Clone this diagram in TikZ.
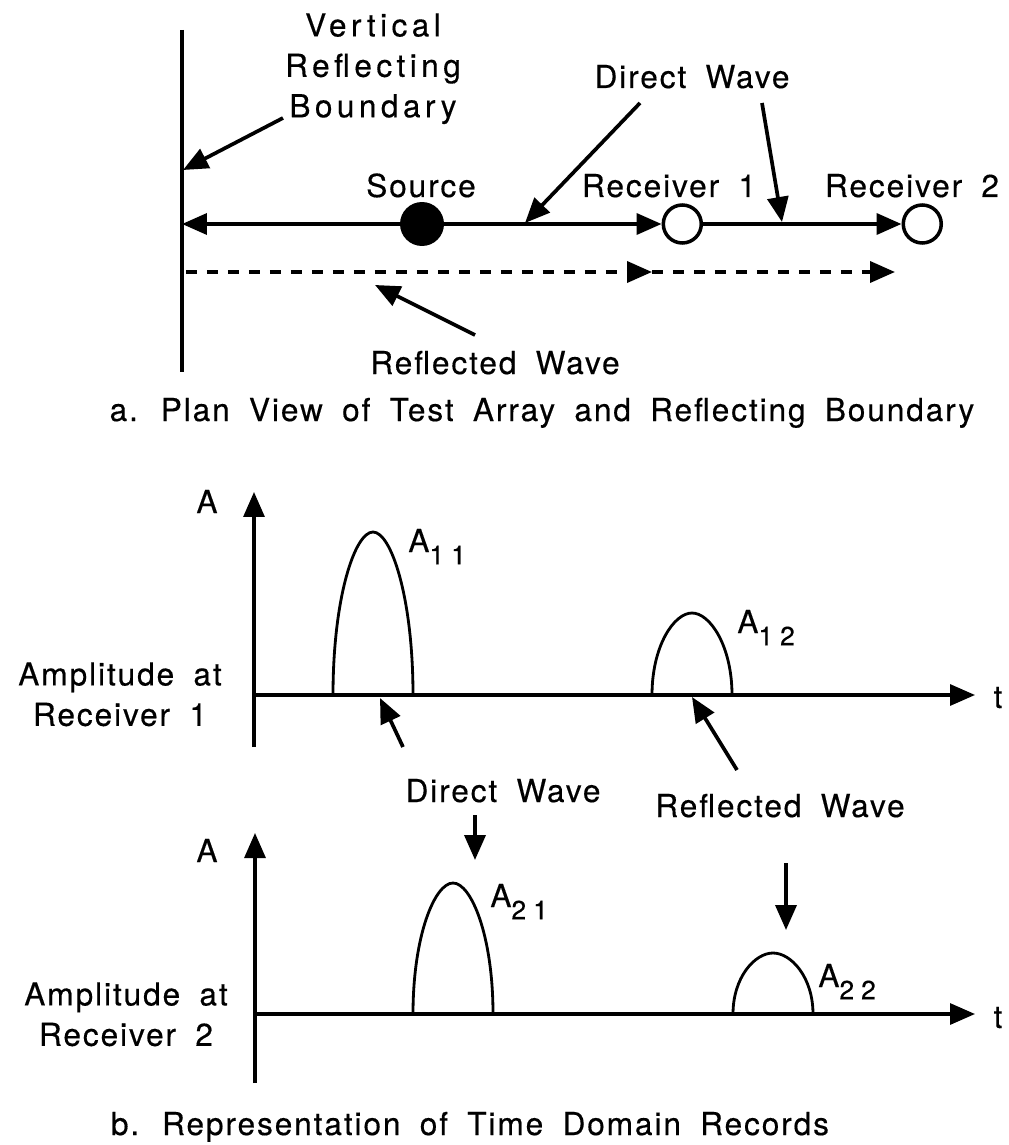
\documentclass[tikz,border=0pt]{standalone}
\usepackage{fontspec}
\setmainfont{TeX Gyre Heros}[LetterSpace=6,WordSpace=1.8,FakeBold=0.35]
\usetikzlibrary{arrows.meta,positioning}
\newcommand\subidx[2]{\raisebox{-7pt}{\fontsize{15}{15}\selectfont #1\hspace{4pt}#2}}

\begin{document}
\begin{tikzpicture}[x=0.02cm,y=-0.02cm,
  every node/.style={font=\fontsize{18}{23}\selectfont,inner sep=0pt},
  tip/.style={-{Triangle[length=0.5cm,width=0.42cm]}},
  wire/.style={line width=2.1pt},
  axis/.style={line width=1.8pt},
  pulse/.style={line width=1.6pt},
  srcdot/.style={circle,fill=black,minimum size=0.88cm},
  rxdot/.style={circle,draw,line width=2pt,minimum size=0.76cm},
  lbl/.style={align=center},
]
\useasboundingbox (0,0) rectangle (1008,1145);

% a. plan view
\coordinate (bndtop) at (182,30);
\coordinate (bndbot) at (182,372);
\coordinate (bndmid) at (182,224);
\coordinate (bndhit) at (183,170);
\node[srcdot] (src) at (422,224) {};
\node[rxdot, right=4.76cm of src, anchor=center] (rx1) {};
\node[rxdot, right=4.8cm of rx1.center, anchor=center] (rx2) {};

\node[lbl, anchor=north, font=\fontsize{18}{23}\selectfont\addfontfeature{LetterSpace=14}] (vrb) at (373,13) {Vertical\\Reflecting\\Boundary};
\node[anchor=base] (srclbl) at (421,197) {Source};
\node[anchor=base] (rx1lbl) at (669,197) {Receiver 1};
\node[anchor=base] (rx2lbl) at (912,197) {Receiver 2};
\node[anchor=base] (dwlbl) at (692,88) {Direct Wave};
\node[anchor=base] (rwlbl) at (495,374) {Reflected Wave};
\node[anchor=base] (capa) at (542,421) {a. Plan View of Test Array and Reflecting Boundary};

\coordinate (vrbt) at (283,118);
\coordinate (dwt1) at (640,103);
\coordinate (dwh1) at (525,223);
\coordinate (dwt2) at (762,103);
\coordinate (dwh2) at (782,222);
\coordinate (rwt) at (475,335);
\coordinate (rwh) at (375,285);
\coordinate (dsh0) at (186,272);
\coordinate (dsh1) at (652,272);
\coordinate (dsh2) at (895,272);

\draw[wire] (bndtop) -- (bndbot);
\draw[wire, tip] (src) -- (bndmid);
\draw[wire, tip] (src) -- (rx1);
\draw[wire, tip] (rx1) -- (rx2);
\draw[wire, tip, dash pattern=on 0.22cm off 0.2cm] (dsh0) -- (dsh1);
\draw[wire, tip, dash pattern=on 0.22cm off 0.2cm] (dsh1) -- (dsh2);
\draw[wire, tip] (vrbt) -- (bndhit);
\draw[wire, tip] (dwt1) -- (dwh1);
\draw[wire, tip] (dwt2) -- (dwh2);
\draw[wire, tip] (rwt) -- (rwh);

% b. time domain records
\coordinate (o1) at (254,695);
\coordinate (ybot1) at (254,747);
\coordinate (ytop1) at (254,492);
\coordinate (tend1) at (975,695);
\coordinate (o2) at (255,1014);
\coordinate (ybot2) at (255,1083);
\coordinate (ytop2) at (255,833);
\coordinate (tend2) at (975,1014);

\node[anchor=base] (alb1) at (207,513) {A};
\node[anchor=base] (alb2) at (207,862) {A};
\node[anchor=base] (tlb1) at (998,708) {t};
\node[anchor=base] (tlb2) at (998,1028) {t};
\node[lbl, anchor=north] (amp1) at (120,662) {Amplitude at\\Receiver 1};
\node[lbl, anchor=north] (amp2) at (126,982) {Amplitude at\\Receiver 2};
\node[anchor=base west] (a11) at (408,552) {A\subidx11};
\node[anchor=base west] (a12) at (737,633) {A\subidx12};
\node[anchor=base west] (a21) at (490,907) {A\subidx21};
\node[anchor=base west] (a22) at (818,987) {A\subidx22};
\node[anchor=base] (dwlb2) at (503,802) {Direct Wave};
\node[anchor=base] (rwlb2) at (780,817) {Reflected Wave};
\node[anchor=base] (capb) at (470,1135) {b. Representation of Time Domain Records};

\draw[axis, tip] (ybot1) -- (ytop1);
\draw[axis, tip] (o1) -- (tend1);
\draw[axis, tip] (ybot2) -- (ytop2);
\draw[axis, tip] (o2) -- (tend2);

\draw[pulse] (333,695) .. controls (333,597) and (355,532) .. (373,532)
  .. controls (391,532) and (413,597) .. (413,695);
\draw[pulse] (652,695) .. controls (652,646) and (674,613) .. (692,613)
  .. controls (710,613) and (732,646) .. (732,695);
\draw[pulse] (413,1014) .. controls (413,935) and (435,883) .. (453,883)
  .. controls (471,883) and (493,935) .. (493,1014);
\draw[pulse] (733,1014) .. controls (733,977) and (755,953) .. (773,953)
  .. controls (791,953) and (813,977) .. (813,1014);

\coordinate (p1t) at (403,747);
\coordinate (p1h) at (380,698);
\coordinate (p2t) at (737,770);
\coordinate (p2h) at (692,697);
\coordinate (p3t) at (475,815);
\coordinate (p3h) at (475,860);
\coordinate (p4t) at (786,863);
\coordinate (p4h) at (786,930);
\draw[wire, tip] (p1t) -- (p1h);
\draw[wire, tip] (p2t) -- (p2h);
\draw[wire, tip] (p3t) -- (p3h);
\draw[wire, tip] (p4t) -- (p4h);
\end{tikzpicture}
\end{document}
